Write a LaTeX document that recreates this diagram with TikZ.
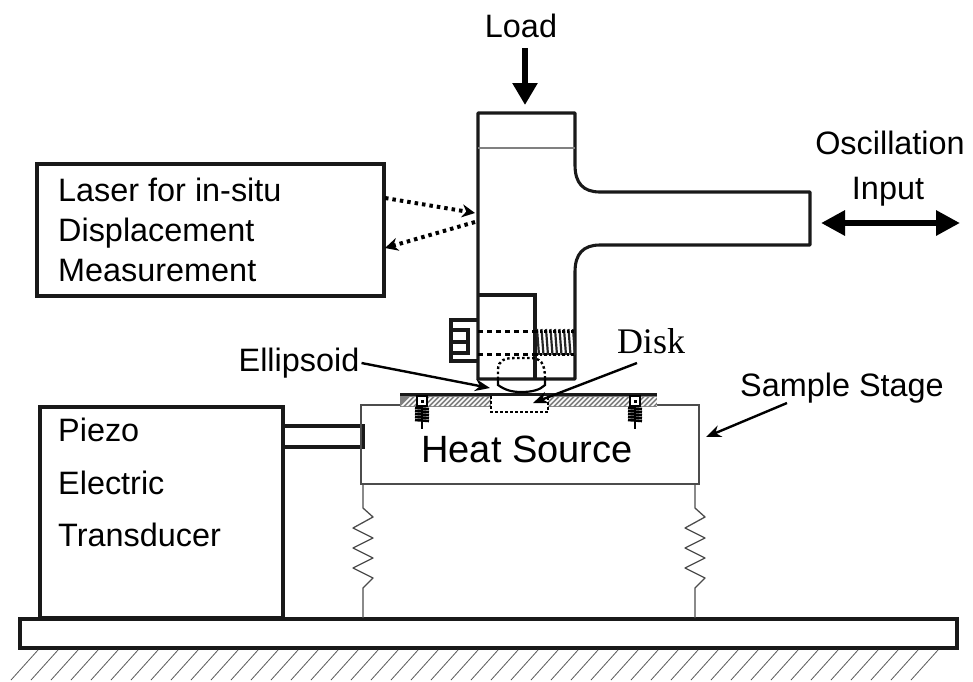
\documentclass[tikz,border=0pt]{standalone}
\usepackage{fontspec}
\setmainfont{Liberation Sans}
\newfontfamily\diskfont{Liberation Serif}
\usetikzlibrary{arrows.meta}
\tikzset{
  heavyline/.style={line width=3.1pt, black!90},
  thinline/.style={line width=1.3pt, black!70},
  dashline/.style={line width=3pt, dash pattern=on 5pt off 4pt, black},
  hatchline/.style={line width=0.8pt, black!65},
  boxlabel/.style={font=\fontsize{32.4}{32.4}\selectfont, anchor=base west, inner sep=0pt},
  smalllabel/.style={font=\fontsize{32.4}{32.4}\selectfont, inner sep=0pt},
  leaderline/.style={-{Stealth[length=15pt, width=12pt]}, line width=2.4pt},
  dotarrow/.style={-{Stealth[length=13pt, width=13pt]}, line width=4pt, dash pattern=on 3.5pt off 4pt},
}
\begin{document}
\begin{tikzpicture}[x=1pt,y=-1pt]
\useasboundingbox (0,0) rectangle (973,681);
% base and ground
\node[draw, heavyline, minimum width=937pt, minimum height=29pt, inner sep=0pt] (base) at (488.5,633.5) {};
\foreach \x in {38,58,...,938} \draw[hatchline] (\x,650) -- ++(-27,30);
% piezo block
\node[draw, heavyline, minimum width=243pt, minimum height=211pt, inner sep=0pt] (piezo) at (161.5,512.5) {};
\node[boxlabel] (piezoa) at (58,441) {Piezo};
\node[boxlabel] (piezob) at (58,494) {Electric};
\node[boxlabel] (piezoc) at (58,546) {Transducer};
\draw[heavyline] (283,426) -- (363,426) -- (363,447) -- (283,447);
% heat source
\node[draw, thinline, minimum width=338pt, minimum height=79pt, inner sep=0pt] (heat) at (530,444.5) {};
\node[font=\fontsize{38}{38}\selectfont, inner sep=0pt] (heatlabel) at (527,449) {Heat Source};
% springs
\foreach \x in {363,695} {
  \draw[thinline, line join=round] (\x,484) -- (\x,508) -- ++(10,9) -- ++(-20,11) -- ++(20,10) -- ++(-20,10) -- ++(20,10) -- ++(-20,10) -- ++(20,10) -- ++(-10,10) -- (\x,618);
}
% sample plate
\fill[black!50] (400,395) rectangle (491,407);
\fill[black!50] (548,395) rectangle (657,407);
\begin{scope}
\clip (400,397) rectangle (491,406) (548,397) rectangle (657,406);
\foreach \x in {400,405,...,670} \draw[white, line width=1.5pt] (\x,408) -- ++(12,-12);
\end{scope}
\draw[line width=2.2pt, black!90] (400,394.5) -- (657,394.5);
\fill[white] (491,396) rectangle (548,407.5);
\draw[line width=1.1pt, dash pattern=on 3pt off 2pt] (491,396) -- (491,412) -- (548,412) -- (548,396);
% screws
\foreach \x in {422,635} {
  \fill[white] (\x-6,396) rectangle (\x+6,407);
  \draw[line width=1.6pt] (\x-5,396) rectangle (\x+5,406);
  \fill (\x-1.5,399.5) rectangle (\x+1.5,402.5);
  \draw[line width=1.2pt] (\x,406) -- (\x,429);
  \foreach \y in {408,411,...,420} \draw[line width=2.6pt] (\x-7,\y) -- (\x+7,\y+1);
}
% holder outline
\draw[heavyline, line join=round] (478,379) -- (478,113) -- (575,113) -- (575,165) .. controls (575,183) and (583,192) .. (600,192) -- (810,192) -- (810,245) -- (600,245) .. controls (583,245) and (575,254) .. (575,272) -- (575,379) -- cycle;
\draw[line width=1.2pt, black!50] (478,148) -- (575,148);
\draw[heavyline] (478,295) -- (535,295) -- (535,379);
% set screw
\draw[heavyline] (478,320) -- (451,320) -- (451,361) -- (478,361);
\draw[heavyline] (451,330) -- (468,330) -- (468,353) -- (451,353);
\draw[heavyline] (451,342) -- (468,342);
\draw[dashline] (478,331) -- (535,331);
\draw[dashline] (478,354) -- (535,354);
% thread
\foreach \x in {537,541.5,...,573} \draw[line width=2.2pt, black!85] (\x,329) -- (\x+2,355);
\draw[line width=3pt, dash pattern=on 2.5pt off 2pt] (535,331) -- (575,331);
\draw[line width=3pt, dash pattern=on 2.5pt off 2pt] (535,354) -- (575,354);
% ellipsoid
\draw[line width=2.4pt, dash pattern=on 2.5pt off 2.5pt] (498,379) -- (498,370) .. controls (498,360) and (505,358) .. (515,358) -- (530,358) .. controls (540,358) and (545,362) .. (545,379);
\draw[line width=2.2pt] (498,379) -- (498,385) .. controls (505,390) and (512,392) .. (521,392) .. controls (532,392) and (540,390) .. (545,385) -- (545,379);
% laser box
\node[draw, heavyline, line width=3.6pt, minimum width=347pt, minimum height=132pt, inner sep=0pt] (laser) at (210.5,230) {};
\node[boxlabel] (lasera) at (58,201) {Laser for in-situ};
\node[boxlabel] (laserb) at (58,241) {Displacement};
\node[boxlabel] (laserc) at (58,281) {Measurement};
\coordinate (beama) at (385,198);
\coordinate (beamb) at (475,213);
\coordinate (beamc) at (475,222);
\coordinate (beamd) at (385,248);
\draw[dotarrow] (beama) -- (beamb);
\draw[dotarrow] (beamc) -- (beamd);
% load
\node[smalllabel] (load) at (521,26) {Load};
\coordinate (loadtip) at (525,105);
\draw[-{Stealth[length=22pt, width=24pt, inset=0pt]}, line width=6pt] (525,48) -- (loadtip);
% oscillation
\node[smalllabel] (oscilla) at (890,143) {Oscillation};
\node[smalllabel] (oscillb) at (888,192) {Input};
\coordinate (oscleft) at (821,223);
\coordinate (oscright) at (960,223);
\draw[{Stealth[length=24pt, width=24pt, inset=0pt]}-{Stealth[length=24pt, width=24pt, inset=0pt]}, line width=6pt] (oscleft) -- (oscright);
% leaders
\node[smalllabel] (ellipsoid) at (299,363) {Ellipsoid};
\coordinate (ellipsoidtip) at (490,388);
\draw[leaderline] (ellipsoid.east) ++(2,0) -- (ellipsoidtip);
\node[inner sep=0pt, font=\diskfont\fontsize{36}{36}\selectfont] (disk) at (651,341) {Disk};
\coordinate (disktip) at (533,403);
\draw[leaderline] (637,363) -- (disktip);
\node[smalllabel] (stage) at (842,388) {Sample Stage};
\coordinate (stagetip) at (706,437);
\draw[leaderline] (787,403) -- (stagetip);
\end{tikzpicture}
\end{document}
